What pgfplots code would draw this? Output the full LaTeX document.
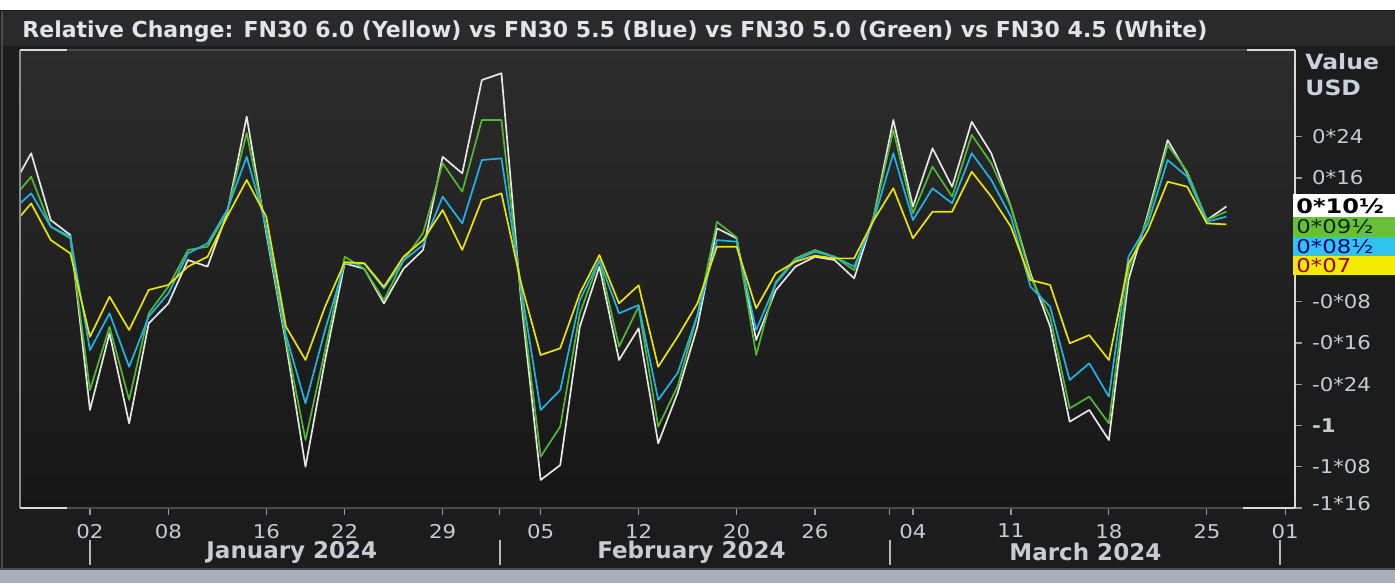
\documentclass[border=0pt]{standalone}
\usepackage{pgfplots}
\pgfplotsset{compat=1.18}
\usepackage{pgfplotstable}
\usepackage{graphicx}
\usepackage{fontspec}
\setmainfont{DejaVu Sans}
\newcommand{\hs}[1]{\scalebox{1.12}[1]{#1}}
\newcommand{\hb}[1]{\scalebox{1.2}[1]{#1}}
\definecolor{bg}{HTML}{1C1C1C}
\definecolor{titlebg}{HTML}{2A2A2A}
\definecolor{plottop}{HTML}{2C2C2C}
\definecolor{plotbot}{HTML}{161616}
\definecolor{titletext}{HTML}{E2E4EA}
\definecolor{ticktext}{HTML}{C8CBD2}
\definecolor{headtext}{HTML}{C8D0DE}
\definecolor{tickgray}{HTML}{9A9A9A}
\definecolor{framegray}{HTML}{4A4A4A}
\definecolor{leftgray}{HTML}{8C8C8C}
\definecolor{rightwhite}{HTML}{D8D8D8}
\definecolor{sepcol}{HTML}{B8B8B8}
\definecolor{stripcol}{HTML}{A9AEBA}
\definecolor{cW}{HTML}{E6E6E6}
\definecolor{cG}{HTML}{52B830}
\definecolor{cB}{HTML}{1EB4E8}
\definecolor{cY}{HTML}{ECE400}
\definecolor{bG}{HTML}{6ABF3A}
\definecolor{bB}{HTML}{2FC3EE}
\definecolor{bY}{HTML}{F2EA00}

\pgfplotstableread{
d W G B Y
-4 0.436 0.366 0.300 0.206
-3 0.650 0.508 0.407 0.346
-2 0.245 0.205 0.205 0.124
-1 0.155 0.134 0.145 0.043
0 -0.906 -0.785 -0.543 -0.462
1 -0.441 -0.401 -0.320 -0.219
2 -0.987 -0.845 -0.644 -0.421
3 -0.381 -0.320 -0.340 -0.178
4 -0.260 -0.158 -0.199 -0.148
5 0.003 0.064 0.043 -0.037
6 -0.037 0.084 0.104 0.023
7 0.286 0.296 0.306 0.266
8 0.872 0.773 0.629 0.488
9 0.165 0.185 0.205 0.265
10 -0.500 -0.480 -0.450 -0.400
11 -1.250 -1.088 -0.866 -0.603
12 -0.603 -0.542 -0.421 -0.280
13 -0.017 0.023 -0.017 -0.010
14 -0.050 -0.050 -0.020 -0.016
15 -0.260 -0.240 -0.169 -0.160
16 -0.050 0.000 0.000 0.023
17 0.064 0.167 0.094 0.124
18 0.629 0.589 0.387 0.306
19 0.528 0.417 0.225 0.064
20 1.094 0.852 0.609 0.367
21 1.135 0.852 0.619 0.407
22 -0.240 -0.200 -0.160 -0.137
23 -1.330 -1.189 -0.906 -0.573
24 -1.240 -1.007 -0.785 -0.532
25 -0.401 -0.320 -0.240 -0.199
26 -0.037 0.003 0.003 0.033
27 -0.603 -0.522 -0.320 -0.260
28 -0.411 -0.280 -0.270 -0.150
29 -1.108 -1.007 -0.845 -0.644
30 -0.800 -0.760 -0.680 -0.460
31 -0.400 -0.330 -0.330 -0.260
32 0.195 0.235 0.124 0.084
33 0.135 0.140 0.114 0.084
34 -0.482 -0.573 -0.421 -0.290
35 -0.180 -0.130 -0.140 -0.078
36 -0.037 0.013 0.003 -0.007
37 0.023 0.064 0.053 0.030
38 0.003 0.023 0.023 0.013
39 -0.108 -0.058 -0.037 0.013
40 0.266 0.266 0.245 0.245
41 0.852 0.791 0.650 0.438
42 0.326 0.286 0.245 0.135
43 0.680 0.569 0.438 0.296
44 0.447 0.387 0.347 0.296
45 0.841 0.761 0.650 0.538
46 0.650 0.589 0.488 0.387
47 0.326 0.326 0.265 0.205
48 -0.078 -0.100 -0.159 -0.118
49 -0.400 -0.340 -0.280 -0.148
50 -0.977 -0.896 -0.724 -0.502
51 -0.906 -0.825 -0.623 -0.452
52 -1.088 -0.987 -0.825 -0.603
53 -0.118 -0.058 0.023 -0.017
54 0.286 0.266 0.225 0.185
55 0.730 0.700 0.609 0.478
56 0.528 0.538 0.508 0.447
57 0.245 0.245 0.235 0.225
58 0.328 0.297 0.266 0.219
}\datatable

\begin{document}
\begin{tikzpicture}
% ---------- background (pixel coordinates) ----------
\begin{scope}[x=0.5pt,y=-0.5pt,yshift=291.5pt]
\fill[bg] (0,0) rectangle (1395,583);
\fill[white] (0,0) rectangle (1395,10);
\fill[titlebg] (3,11) rectangle (1395,46);
\fill[stripcol] (0,570) rectangle (1395,583);
\draw[black!70, line width=1pt] (0,569) -- (1395,569);
\draw[framegray, line width=1pt] (2,11) -- (2,569);
\node[anchor=west, inner sep=0pt, text=titletext, font=\fontsize{11}{12}\selectfont\bfseries] at (22,32)
 {Relative Change: FN30 6.0 (Yellow) vs FN30 5.5 (Blue) vs FN30 5.0 (Green) vs FN30 4.5 (White)};
\node[anchor=west, inner sep=0pt, text=headtext, font=\fontsize{10.5}{12}\selectfont\bfseries] at (1305,62) {\hs{Value}};
\node[anchor=west, inner sep=0pt, text=headtext, font=\fontsize{10.5}{12}\selectfont\bfseries] at (1305,88) {\hs{USD}};
% month separators (x = 90 + 19.6 d)
\draw[sepcol, line width=0.7pt] (90,540) -- (90,565) (500,540) -- (500,565) (890,540) -- (890,565) (1280,540) -- (1280,565);
\end{scope}

\begin{axis}[
  at={(10pt,37.5pt)}, anchor=south west,
  scale only axis, width=637.5pt, height=229pt,
  xmin=-3.57, xmax=61.5, ymin=-1.5, ymax=1.276,
  axis background/.style={top color=plottop, bottom color=plotbot},
  axis line style={draw=none},
  clip mode=individual,
  tick align=outside,
  major tick length=3.5pt,
  xtick={0,4,9,13,18,23,28,33,37,42,47,52,57,61},
  xticklabels={\hs{02},\hs{08},\hs{16},\hs{22},\hs{29},\hs{05},\hs{12},\hs{20},\hs{26},\hs{04},\hs{11},\hs{18},\hs{25},\hs{01}},
  extra x ticks={20.92,40.8},
  extra x tick labels={},
  xtick pos=bottom,
  ytick={-1.5,-1.25,-1,-0.75,-0.5,-0.25,0.5,0.75},
  yticklabels={\raisebox{5pt}{\hs{-1*16}},\hs{-1*08},\hs{\textbf{-1}},\hs{-0*24},\hs{-0*16},\hs{-0*08},\hs{0*16},\hs{0*24}},
  ytick pos=right,
  tick style={color=tickgray, line width=0.6pt},
  ticklabel style={font=\fontsize{9.5}{10}\selectfont, text=ticktext},
  yticklabel style={anchor=west, xshift=1.5pt},
  xticklabel style={yshift=-1pt},
]
\addplot[cW, line width=0.85pt, line join=round] table[x=d,y=W]{\datatable};
\addplot[cG, line width=0.85pt, line join=round] table[x=d,y=G]{\datatable};
\addplot[cB, line width=0.85pt, line join=round] table[x=d,y=B]{\datatable};
\addplot[cY, line width=0.85pt, line join=round] table[x=d,y=Y]{\datatable};
\node[text=ticktext, font=\fontsize{11.5}{12}\selectfont\bfseries] at ([yshift=-22pt]axis cs:10.3,-1.5) {January 2024};
\node[text=ticktext, font=\fontsize{11.5}{12}\selectfont\bfseries] at ([yshift=-22pt]axis cs:30.7,-1.5) {February 2024};
\node[text=ticktext, font=\fontsize{11.5}{12}\selectfont\bfseries] at ([yshift=-22pt]axis cs:50.8,-1.5) {March 2024};
\end{axis}

% ---------- frame and value boxes (pixel coordinates) ----------
\begin{scope}[x=0.5pt,y=-0.5pt,yshift=291.5pt]
\draw[framegray, line width=0.75pt] (20,50) -- (1295,50);
\draw[framegray, line width=0.75pt] (20,508) -- (1295,508);
\draw[leftgray, line width=0.75pt] (20,50) -- (20,508);
\draw[rightwhite, line width=0.75pt] (1295,50) -- (1295,508);
\draw[rightwhite, line width=0.75pt] (20,50) -- (67,50) (20,508) -- (67,508) (1247,50) -- (1295,50) (1243,508) -- (1295,508);
\fill[white] (1293,194) rectangle (1395,217);
\fill[bG] (1293,217) rectangle (1395,237);
\fill[bB] (1293,237) rectangle (1395,256);
\fill[bY] (1293,256) rectangle (1395,275);
\node[anchor=west, inner sep=0pt, text=black, font=\fontsize{10}{11}\selectfont\bfseries] at (1296,206) {\hb{0*10½}};
\node[anchor=west, inner sep=0pt, text=black!85!green, font=\fontsize{9.5}{10}\selectfont] at (1296,227) {\hb{0*09½}};
\node[anchor=west, inner sep=0pt, text=blue!50!black, font=\fontsize{9.5}{10}\selectfont] at (1296,246.5) {\hb{0*08½}};
\node[anchor=west, inner sep=0pt, text=red!60!black, font=\fontsize{9.5}{10}\selectfont] at (1296,265.5) {\hb{0*07}};
\end{scope}
\pgfresetboundingbox
\path[use as bounding box] (0,0) rectangle (697.5pt,291.5pt);
\end{tikzpicture}
\end{document}
